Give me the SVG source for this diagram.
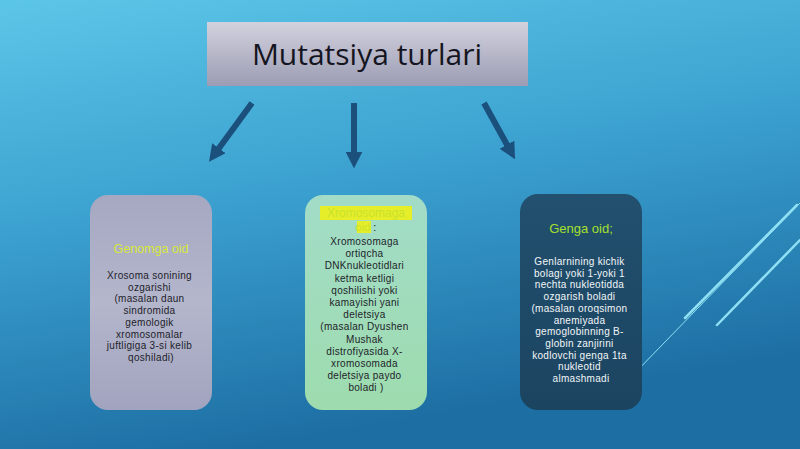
<svg xmlns="http://www.w3.org/2000/svg" width="800" height="449" viewBox="0 0 800 449">
<defs>
<linearGradient id="bg" x1="0" y1="0" x2="0.3" y2="1">
<stop offset="0" stop-color="#5cc6e8"/>
<stop offset="0.5" stop-color="#3a9fce"/>
<stop offset="1" stop-color="#1d6ea3"/>
</linearGradient>
<linearGradient id="tb" x1="0" y1="0" x2="0" y2="1">
<stop offset="0" stop-color="#d2d2de"/>
<stop offset="1" stop-color="#9c9cb4"/>
</linearGradient>
<linearGradient id="b1" x1="0" y1="0" x2="0" y2="1">
<stop offset="0" stop-color="#a6a8c2"/>
<stop offset="0.5" stop-color="#b4b6cc"/>
<stop offset="1" stop-color="#a2a4bf"/>
</linearGradient>
<linearGradient id="b2" x1="0" y1="0" x2="0" y2="1">
<stop offset="0" stop-color="#a2dcc8"/>
<stop offset="1" stop-color="#9edcae"/>
</linearGradient>
<linearGradient id="b3" x1="0" y1="0" x2="0" y2="1">
<stop offset="0" stop-color="#22506e"/>
<stop offset="1" stop-color="#1b4460"/>
</linearGradient>
<marker id="ah" viewBox="0 0 10 10" refX="5" refY="5" markerWidth="2.8" markerHeight="2.8" orient="auto">
<path d="M0,0 L10,5 L0,10 z" fill="#1b4f7c"/>
</marker>
<style>
.t{font-family:"Liberation Sans",Arial,sans-serif;text-anchor:middle}
.s{font-size:10px;letter-spacing:0.3px}
.dk{fill:#1e1e2a}
.wh{fill:#f2f6f8}
.arr{stroke:#1b4f7c;stroke-width:6;fill:none;marker-end:url(#ah)}
.dec{stroke:#8fe0f4;fill:none;stroke-linecap:round}
</style>
</defs>
<rect width="800" height="449" fill="url(#bg)"/>
<g id="decor">
<line class="dec" x1="630" y1="378" x2="800" y2="203" stroke-width="1"/>
<line class="dec" x1="685" y1="318" x2="797" y2="205" stroke-width="2.5"/>
<line class="dec" x1="717" y1="325" x2="800" y2="240" stroke-width="2.5"/>
</g>
<g id="title">
<rect x="207" y="22" width="321" height="64" fill="url(#tb)"/>
<text x="367" y="65" font-family="'Open Sans','Liberation Sans',sans-serif" text-anchor="middle" font-size="30" fill="#15151f">Mutatsiya turlari</text>
</g>
<g id="connectors">
<line class="arr" x1="252" y1="103" x2="214" y2="155"/>
<line class="arr" x1="354" y1="103" x2="354" y2="160"/>
<line class="arr" x1="484" y1="103" x2="511" y2="152"/>
</g>
<g id="genom">
<rect x="90" y="195" width="122" height="215" rx="18" fill="url(#b1)"/>
<text class="t" x="151" y="253" font-size="12.5" fill="#d6e83a">Genomga oid</text>
<text class="t s dk" x="151" y="279">
<tspan x="151">Xrosoma sonining</tspan>
<tspan x="151" dy="11.7">ozgarishi</tspan>
<tspan x="151" dy="11.7">(masalan daun</tspan>
<tspan x="151" dy="11.7">sindromida</tspan>
<tspan x="151" dy="11.7">gemologik</tspan>
<tspan x="151" dy="11.7">xromosomalar</tspan>
<tspan x="151" dy="11.7">juftligiga 3-si kelib</tspan>
<tspan x="151" dy="11.7">qoshiladi)</tspan>
</text>
</g>
<g id="xromosom">
<rect x="305" y="195" width="122" height="215" rx="18" fill="url(#b2)"/>
<rect x="320" y="206" width="92" height="14" fill="#e6ee2a"/>
<rect x="357" y="221" width="14" height="12" fill="#e6ee2a"/>
<text class="t" x="366" y="217" font-size="12" fill="#c9e22c">Xromosomaga</text>
<text class="t" x="366" y="231" font-size="11"><tspan fill="#c9e22c">oid</tspan><tspan fill="#1e1e2a"> :</tspan></text>
<text class="t s dk" x="366" y="245">
<tspan x="366">Xromosomaga</tspan>
<tspan x="366" dy="12.2">ortiqcha</tspan>
<tspan x="366" dy="12.2">DNKnukleotidlari</tspan>
<tspan x="366" dy="12.2">ketma ketligi</tspan>
<tspan x="366" dy="12.2">qoshilishi yoki</tspan>
<tspan x="366" dy="12.2">kamayishi yani</tspan>
<tspan x="366" dy="12.2">deletsiya</tspan>
<tspan x="366" dy="12.2">(masalan Dyushen</tspan>
<tspan x="366" dy="12.2">Mushak</tspan>
<tspan x="366" dy="12.2">distrofiyasida X-</tspan>
<tspan x="366" dy="12.2">xromosomada</tspan>
<tspan x="366" dy="12.2">deletsiya paydo</tspan>
<tspan x="366" dy="12.2">boladi )</tspan>
</text>
</g>
<g id="gen">
<rect x="520" y="194" width="122" height="216" rx="18" fill="url(#b3)"/>
<text class="t" x="581" y="233" font-size="13" fill="#a6e02e">Genga oid;</text>
<text class="t s wh" x="581" y="265">
<tspan x="581">Genlarnining kichik</tspan>
<tspan x="581" dy="11.7">bolagi yoki 1-yoki 1</tspan>
<tspan x="581" dy="11.7">nechta nukleotidda</tspan>
<tspan x="581" dy="11.7">ozgarish boladi</tspan>
<tspan x="581" dy="11.7">(masalan oroqsimon</tspan>
<tspan x="581" dy="11.7">anemiyada</tspan>
<tspan x="581" dy="11.7">gemoglobinning B-</tspan>
<tspan x="581" dy="11.7">globin zanjirini</tspan>
<tspan x="581" dy="11.7">kodlovchi genga 1ta</tspan>
<tspan x="581" dy="11.7">nukleotid</tspan>
<tspan x="581" dy="11.7">almashmadi</tspan>
</text>
</g>
</svg>
